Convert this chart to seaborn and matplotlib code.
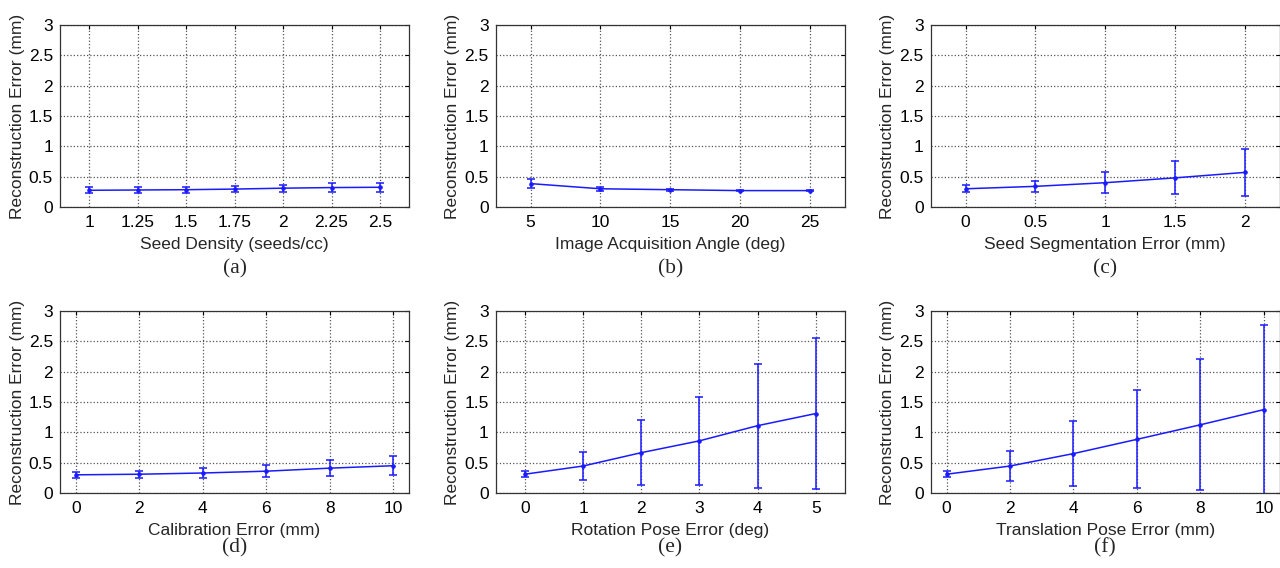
import numpy as np
import matplotlib
matplotlib.use("Agg")
import matplotlib.pyplot as plt
import seaborn as sns
import pandas as pd

# (a) seed density
density_x = [1, 1.25, 1.5, 1.75, 2, 2.25, 2.5]
density_mean = [0.275, 0.28, 0.285, 0.295, 0.31, 0.32, 0.325]
density_err = [0.05, 0.05, 0.05, 0.055, 0.06, 0.07, 0.07]

# (b) image acquisition angle
angle_x = [5, 10, 15, 20, 25]
angle_mean = [0.385, 0.30, 0.285, 0.27, 0.27]
angle_err = [0.07, 0.03, 0.015, 0.01, 0.01]

# (c) seed segmentation error
seg_x = [0, 0.5, 1, 1.5, 2]
seg_mean = [0.30, 0.34, 0.40, 0.48, 0.57]
seg_err = [0.06, 0.09, 0.17, 0.27, 0.385]

# (d) calibration error
calib_x = [0, 2, 4, 6, 8, 10]
calib_mean = [0.30, 0.31, 0.33, 0.36, 0.41, 0.45]
calib_err = [0.05, 0.06, 0.08, 0.10, 0.13, 0.16]

# (e) rotation pose error
rot_x = [0, 1, 2, 3, 4, 5]
rot_mean = [0.31, 0.445, 0.665, 0.86, 1.11, 1.31]
rot_err = [0.05, 0.235, 0.54, 0.725, 1.02, 1.24]

# (f) translation pose error
trans_x = [0, 2, 4, 6, 8, 10]
trans_mean = [0.31, 0.445, 0.65, 0.885, 1.125, 1.375]
trans_err = [0.05, 0.24, 0.54, 0.81, 1.08, 1.40]

xlabels = ["Seed Density (seeds/cc)", "Image Acquisition Angle (deg)",
           "Seed Segmentation Error (mm)", "Calibration Error (mm)",
           "Rotation Pose Error (deg)", "Translation Pose Error (mm)"]
captions = ["(a)", "(b)", "(c)", "(d)", "(e)", "(f)"]
xticklabels = [["1", "1.25", "1.5", "1.75", "2", "2.25", "2.5"],
               ["5", "10", "15", "20", "25"],
               ["0", "0.5", "1", "1.5", "2"],
               ["0", "2", "4", "6", "8", "10"],
               ["0", "1", "2", "3", "4", "5"],
               ["0", "2", "4", "6", "8", "10"]]
yticks = [0, 0.5, 1, 1.5, 2, 2.5, 3]
yticklabels = ["0", "0.5", "1", "1.5", "2", "2.5", "3"]

panels = [(density_x, density_mean, density_err, (0.85, 2.65)),
          (angle_x, angle_mean, angle_err, (2.5, 27.5)),
          (seg_x, seg_mean, seg_err, (-0.25, 2.25)),
          (calib_x, calib_mean, calib_err, (-0.5, 10.5)),
          (rot_x, rot_mean, rot_err, (-0.5, 5.5)),
          (trans_x, trans_mean, trans_err, (-0.5, 10.5))]

sns.set_style("white")
plt.rcParams['font.family'] = ['Liberation Sans', 'DejaVu Sans']

fig = plt.figure(figsize=(12.8, 5.68), dpi=100)

lefts = [0.0469, 0.3873, 0.7271]
bottoms = [0.6356, 0.132]
cap_y = [-0.34, -0.30]
w, h = 0.2727, 0.3204
blue = "#1a1aff"

for i, (x, m, e, xl) in enumerate(panels):
    ax = fig.add_axes([lefts[i % 3], bottoms[i // 3], w, h])
    df = pd.DataFrame({"x": x, "y": m})
    ax.errorbar(x, m, yerr=e, fmt="none", ecolor=blue, elinewidth=1.1,
                capsize=3, capthick=1.1, zorder=3)
    sns.lineplot(data=df, x="x", y="y", ax=ax, color=blue, linewidth=1.1,
                 marker="o", markersize=2.5, markeredgecolor=blue, zorder=4)
    ax.set_xlim(*xl)
    ax.set_ylim(0, 3)
    ax.set_xticks(x)
    ax.set_xticklabels(xticklabels[i])
    ax.set_yticks(yticks)
    ax.set_yticklabels(yticklabels)
    ax.grid(True, linestyle=":", color="#555555", linewidth=0.9)
    ax.tick_params(direction="in", length=3, labelsize=12.5, colors="black",
                   top=True, right=True)
    ax.tick_params(axis="x", pad=6)
    ax.tick_params(axis="y", pad=5)
    for s in ax.spines.values():
        s.set_color("#333333")
        s.set_linewidth(0.9)
    ax.set_xlabel(xlabels[i], fontsize=12.5, labelpad=5)
    ax.set_ylabel("Reconstruction Error (mm)", fontsize=12.5, labelpad=3)
    ax.text(0.5, cap_y[i // 3], captions[i], transform=ax.transAxes, ha="center",
            va="center", fontsize=15.5, family=["Liberation Serif", "DejaVu Serif"])

fig.savefig("out.png", dpi=100)
